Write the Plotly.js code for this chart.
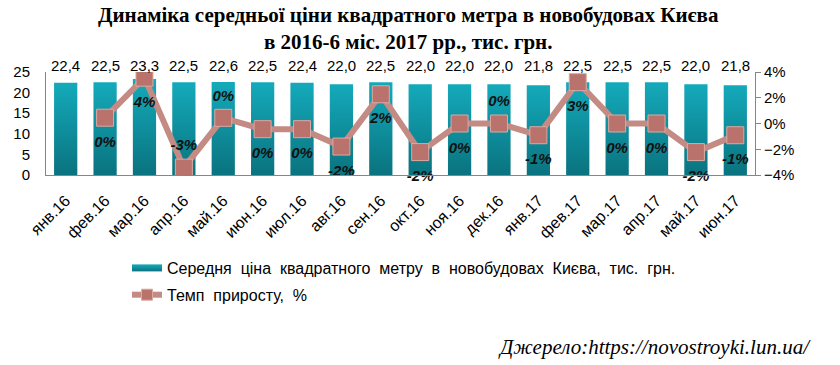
<!DOCTYPE html>
<html>
<head>
<meta charset="utf-8">
<script src="https://cdn.plot.ly/plotly-3.0.1.min.js"></script>
<style>html,body{margin:0;padding:0;background:#fff;}#chart{width:840px;height:365px;}</style>
</head>
<body>
<div id="chart"></div>
<script>
// ---- data ----
const months = ["янв.16","фев.16","мар.16","апр.16","май.16","июн.16","июл.16","авг.16","сен.16","окт.16","ноя.16","дек.16","янв.17","фев.17","мар.17","апр.17","май.17","июн.17"];
const prices = [22.4,22.5,23.3,22.5,22.6,22.5,22.4,22.0,22.5,22.0,22.0,22.0,21.8,22.5,22.5,22.5,22.0,21.8];
const growth = [null,0.0045,0.0356,-0.0343,0.0044,-0.0044,-0.0044,-0.0179,0.0227,-0.0222,0.0,0.0,-0.0091,0.0321,0.0,0.0,-0.0222,-0.0091];
const growthLabels = ["","0%","4%","-3%","0%","0%","0%","-2%","2%","-2%","0%","0%","-1%","3%","0%","0%","-2%","-1%"];
const growthLabelSide = ["","bottom","bottom","top","top","bottom","bottom","bottom","bottom","bottom","bottom","top","bottom","bottom","bottom","bottom","bottom","bottom"];
const priceName = "Середня&nbsp; ціна&nbsp; квадратного&nbsp; метру&nbsp; в&nbsp; новобудовах&nbsp; Києва,&nbsp; тис.&nbsp; грн.";
const growthName = "Темп&nbsp; приросту,&nbsp; %";
const titleText = "<b>Динаміка середньої ціни квадратного метра в новобудовах Києва<br>в 2016-6 міс. 2017 рр., тис. грн.</b>";
const sourceText = "<i>Джерело:https://novostroyki.lun.ua/</i>";

const sans = "Liberation Sans, Arial, sans-serif";
const serif = "Liberation Serif, Times New Roman, serif";
const markerStyle = {symbol: "square", color: "#B9736C", line: {color: "#DDA8A0", width: 1}};

const barTrace = {
  type: "bar", x: months, y: prices, name: priceName,
  marker: {color: "#0F93A2"}, width: 0.59,
  hoverinfo: "x+y", legendgroup: "a"
};
const lineTrace = {
  type: "scatter", mode: "lines+markers", x: months, y: growth, yaxis: "y2",
  name: growthName, connectgaps: false,
  line: {color: "#C48B84", width: 6},
  marker: Object.assign({size: 11}, markerStyle),
  legendgroup: "b"
};
const markerTrace = {
  type: "scatter", mode: "markers", x: months, y: growth, yaxis: "y2",
  marker: Object.assign({size: 17}, markerStyle),
  showlegend: false, hoverinfo: "skip"
};
const labelTrace = {
  type: "scatter", mode: "text+markers", x: months, y: growth, yaxis: "y2",
  text: growthLabels,
  textposition: growthLabelSide.map(s => s ? s + " center" : "middle center"),
  marker: {size: growthLabelSide.map(s => s === "top" ? 20 : 27), opacity: 0},
  textfont: {family: sans, size: 15, color: "#111", weight: "bold", style: "italic"},
  showlegend: false, hoverinfo: "skip", cliponaxis: false
};

const annotations = prices.map((p, i) => ({
  x: months[i], xref: "x", y: 1, yref: "paper", yanchor: "middle", yshift: 7,
  text: p.toFixed(1).replace(".", ","), showarrow: false,
  font: {family: sans, size: 15, color: "#000"}
}));
annotations.push({
  x: (813 - 46) / 709, xref: "paper", xanchor: "right", y: (175 - 347) / 103, yref: "paper", yanchor: "middle",
  text: sourceText, showarrow: false, font: {family: serif, size: 21, color: "#000"}
});

const layout = {
  width: 840, height: 365,
  margin: {l: 46, r: 85, t: 72, b: 190, autoexpand: false},
  paper_bgcolor: "#fff", plot_bgcolor: "rgba(0,0,0,0)",
  title: {text: titleText, font: {family: serif, size: 21, color: "#000"},
          x: 0.486, xanchor: "center", xref: "container", y: 1 - 22/365, yanchor: "top", yref: "container", automargin: false},
  showlegend: true,
  legend: {x: (127 - 46) / 709, xanchor: "left", y: (175 - 251) / 103, yanchor: "top",
           font: {family: sans, size: 16, color: "#000"}, traceorder: "grouped", tracegroupgap: 3,
           bgcolor: "rgba(0,0,0,0)"},
  xaxis: {type: "category", range: [-0.5, 17.5], tickangle: -45, showline: true, linecolor: "#868686", linewidth: 1,
          ticks: "outside", ticklen: 9, tickcolor: "rgba(0,0,0,0)", tickfont: {family: sans, size: 16, color: "#000"},
          showgrid: false, zeroline: false, fixedrange: true, automargin: false},
  yaxis: {range: [0, 25], dtick: 5, showline: true, linecolor: "#868686", linewidth: 1, showgrid: false, zeroline: false,
          ticks: "outside", ticklen: 12, tickcolor: "rgba(0,0,0,0)", tickfont: {family: sans, size: 15, color: "#000"}, fixedrange: true, automargin: false},
  yaxis2: {overlaying: "y", side: "right", range: [-0.04, 0.04], dtick: 0.02, tickformat: ".0%", showline: true,
           linecolor: "#868686", linewidth: 1, ticks: "outside", ticklen: 5, tickcolor: "#868686", showgrid: false, zeroline: false,
           tickfont: {family: sans, size: 15, color: "#000"}, fixedrange: true, automargin: false},
  annotations: annotations
};

function restyle(gd) {
  const svg = gd.querySelector(".main-svg");
  const ns = "http://www.w3.org/2000/svg";
  if (!svg.querySelector("#barGrad")) {
    let defs = svg.querySelector("defs");
    if (!defs) { defs = document.createElementNS(ns, "defs"); svg.insertBefore(defs, svg.firstChild); }
    const grad = document.createElementNS(ns, "linearGradient");
    grad.setAttribute("id", "barGrad"); grad.setAttribute("x1", "0"); grad.setAttribute("y1", "0");
    grad.setAttribute("x2", "0"); grad.setAttribute("y2", "1");
    [["0", "#14AABB"], ["1", "#0A737F"]].forEach(([o, c]) => {
      const s = document.createElementNS(ns, "stop"); s.setAttribute("offset", o); s.setAttribute("stop-color", c); grad.appendChild(s);
    });
    defs.appendChild(grad);
  }
  gd.querySelectorAll(".barlayer .bars path").forEach(p => { p.style.fill = "url(#barGrad)"; });
  const legTraces = gd.querySelectorAll(".legend .traces");
  if (legTraces[0]) {
    legTraces[0].querySelectorAll(".legendpoints path").forEach(p => {
      p.setAttribute("d", "M-15,-3.5H15V3.5H-15Z"); p.style.fill = "url(#barGrad)"; p.style.stroke = "none";
    });
  }
}

Plotly.newPlot("chart", [barTrace, lineTrace, markerTrace, labelTrace], layout, {displayModeBar: false, staticPlot: true}).then(gd => {
  restyle(gd);
});
</script>
</body>
</html>
